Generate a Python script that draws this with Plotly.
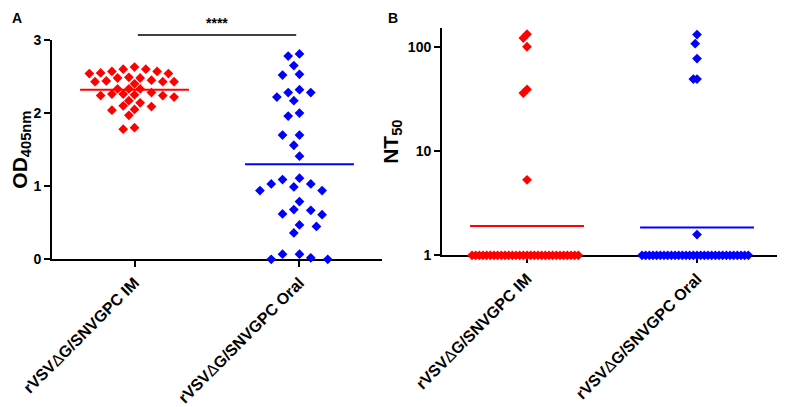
import numpy as np
import plotly.graph_objects as go

# groups and colours
groups = ["rVSVΔG/SNVGPC IM", "rVSVΔG/SNVGPC Oral"]
colors = ["#FF0000", "#0000FF"]

# panel A: OD 405nm values
od_im = [2.63, 2.60, 2.60, 2.57, 2.57, 2.55, 2.54, 2.54, 2.49,
         2.48, 2.48, 2.45, 2.44, 2.43, 2.43, 2.43, 2.40,
         2.33, 2.33, 2.33, 2.28, 2.26, 2.26, 2.25, 2.24, 2.24, 2.22,
         2.17, 2.14, 2.10, 2.09, 2.05, 2.04, 1.97, 1.80, 1.78]
od_oral = [2.81, 2.78, 2.65, 2.53, 2.52, 2.32, 2.28, 2.28, 2.22, 2.17,
           2.00, 1.96, 1.70, 1.70, 1.56, 1.41, 1.11, 1.09, 1.03, 1.03,
           0.99, 0.94, 0.94, 0.79, 0.68, 0.67, 0.62, 0.61, 0.47, 0.45,
           0.36, 0.07, 0.07, 0.02, 0.00, 0.00]

# panel B: NT50 titres
nt_im = [132, 121, 100, 39, 36, 5.3,
         1, 1, 1, 1, 1, 1, 1, 1, 1, 1, 1, 1, 1, 1, 1,
         1, 1, 1, 1, 1, 1, 1, 1, 1, 1, 1, 1, 1, 1, 1]
nt_oral = [131, 107, 77, 49, 49, 1.58,
           1, 1, 1, 1, 1, 1, 1, 1, 1, 1, 1, 1, 1, 1, 1,
           1, 1, 1, 1, 1, 1, 1, 1, 1, 1, 1, 1, 1, 1, 1]

od_ticks = [0, 1, 2, 3]
nt_ticks = [1, 10, 100]

FONT = "Liberation Sans"


def swarm_x(values, px_per_unit, px_per_cat, max_px, log=False, step=5.65, gap=10.5):
    # simple greedy beeswarm in pixel space, squeezed if too wide
    v = np.log10(values) if log else np.asarray(values, float)
    ypx = v * px_per_unit
    order = np.argsort(-ypx, kind="stable")
    cands = [0]
    for n in range(1, 80):
        cands += [-n, n]
    placed = []
    xs = np.zeros(len(v))
    for i in order:
        for c in cands:
            x = c * step
            if all(abs(x - px) + abs(ypx[i] - py) >= gap for px, py in placed):
                break
        placed.append((x, ypx[i]))
        xs[i] = x
    m = np.abs(xs).max()
    if m > max_px:
        xs = xs * max_px / m
    return xs / px_per_cat


fig = go.Figure()

# Panel A
for i, vals in enumerate([od_im, od_oral]):
    xs = i + swarm_x(vals, 73.1, 165, 52, gap=10.5 if i == 0 else 13)
    fig.add_trace(go.Scatter(x=xs, y=vals, mode="markers", cliponaxis=False,
                             marker=dict(symbol="diamond", size=7.5, color=colors[i]),
                             xaxis="x", yaxis="y", showlegend=False))
    m = float(np.mean(vals))
    fig.add_trace(go.Scatter(x=[i - 0.33, i + 0.33], y=[m, m], mode="lines",
                             line=dict(color=colors[i], width=2),
                             xaxis="x", yaxis="y", showlegend=False))

# Panel B
for i, vals in enumerate([nt_im, nt_oral]):
    xs = i + swarm_x(vals, 104.2, 170, 55, log=True)
    fig.add_trace(go.Scatter(x=xs, y=vals, mode="markers", cliponaxis=False,
                             marker=dict(symbol="diamond", size=7.5, color=colors[i]),
                             xaxis="x2", yaxis="y2", showlegend=False))
    gm = float(10 ** np.mean(np.log10(vals)))
    fig.add_trace(go.Scatter(x=[i - 0.335, i + 0.335], y=[gm, gm], mode="lines",
                             line=dict(color=colors[i], width=2),
                             xaxis="x2", yaxis="y2", showlegend=False))

tickfont = dict(family=FONT, size=14, color="black")
labels = ["<b>" + g.replace("Δ", "<span style='font-weight:normal'>Δ</span>") + "</b>"
          for g in groups]
xcommon = dict(tickmode="array", tickvals=[0, 1], ticktext=labels, range=[-0.5, 1.5],
               showline=True, linecolor="black", linewidth=2, ticks="outside",
               ticklen=6, tickwidth=2, tickcolor="black", tickangle=-45,
               tickfont=dict(family=FONT, size=16, color="black"),
               showgrid=False, zeroline=False, layer="below traces", automargin=False)
ycommon = dict(showline=True, linecolor="black", linewidth=2, ticks="outside",
               ticklen=6, tickwidth=2, tickcolor="black", tickfont=tickfont,
               showgrid=False, zeroline=False, layer="below traces", automargin=False)

# the page body adds an 8px offset, so domains are placed 8px up/left
fig.update_layout(
    width=785, height=407,
    margin=dict(l=0, r=0, t=0, b=0),
    paper_bgcolor="white", plot_bgcolor="white",
    xaxis=dict(domain=[0.0561, 0.4764], anchor="y", **xcommon),
    yaxis=dict(domain=[0.3826, 0.9214], anchor="x", range=[0, 3],
               tickmode="array", tickvals=od_ticks,
               ticktext=["<b>%d</b>" % t for t in od_ticks],
               title=dict(text="<b>OD<sub>405nm</sub></b>", standoff=5,
                          font=dict(family=FONT, size=21, color="black")),
               **ycommon),
    xaxis2=dict(domain=[0.5529, 0.9860], anchor="y2", **xcommon),
    yaxis2=dict(domain=[0.3924, 0.9509], anchor="x2", type="log", range=[0, 2.18],
                tickmode="array", tickvals=nt_ticks,
                ticktext=["<b>%d</b>" % t for t in nt_ticks],
                title=dict(text="<b>NT<sub>50</sub></b>", standoff=4,
                           font=dict(family=FONT, size=21, color="black")),
                **ycommon),
)

# significance bar between the two groups in panel A
x0 = (0.02 + 0.5) / 2.0
x1 = (0.98 + 0.5) / 2.0
fig.add_shape(type="line", xref="x domain", yref="y domain", x0=x0, x1=x1,
              y0=1.023, y1=1.023, line=dict(color="black", width=1.5))
fig.add_annotation(x=0.5, y=1.03, xref="x", yref="y domain", text="<b>****</b>",
                   showarrow=False, yanchor="bottom",
                   font=dict(family=FONT, size=14, color="black"))

# panel letters
for letter, px in [("A", 0.0115), ("B", 0.4904)]:
    fig.add_annotation(x=px, y=1.0, xref="paper", yref="paper", text="<b>" + letter + "</b>",
                       showarrow=False, xanchor="center", yanchor="top",
                       font=dict(family=FONT, size=14, color="black"))

fig.write_html("out.html")
